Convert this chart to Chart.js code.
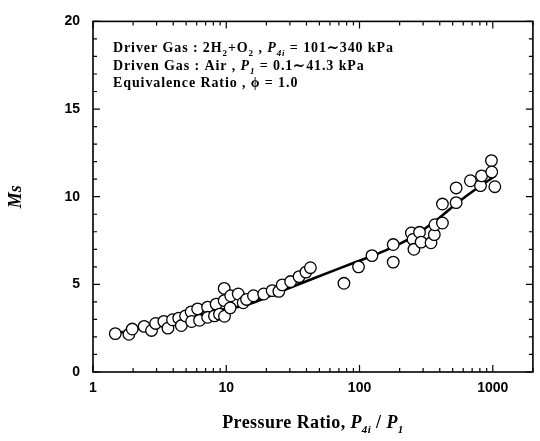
<!DOCTYPE html>
<html><head><meta charset="utf-8">
<script src="https://cdn.jsdelivr.net/npm/chart.js@4"></script>
<style>html,body{margin:0;padding:0;background:#fff}</style>
</head><body>
<canvas id="c" width="540" height="441"></canvas>
<script>
// Measured data: pressure ratio P4i/P1 and shock Mach number Ms
const pressureRatio = [1.47,1.86,1.97,2.42,2.75,2.95,3.4,3.65,3.95,4.4,4.6,4.95,5.45,5.5,6.1,6.3,7.25,7.25,8.4,8.15,8.9,9.65,9.65,9.7,10.8,10.7,12.3,13.4,14.2,16.0,19.1,22.1,24.8,26.3,30.4,35.2,39.6,42.8,76.4,98.3,124,179,179,245,252,256,282,290,344,364,368,419,419,531,531,679,809,824,977,982,1036];
const machNumber    = [2.19,2.15,2.45,2.6,2.37,2.77,2.89,2.5,2.98,3.07,2.65,3.2,3.43,2.88,3.6,2.95,3.7,3.12,3.87,3.2,3.3,4.77,4.07,3.18,4.35,3.66,4.45,3.95,4.14,4.35,4.45,4.64,4.6,4.97,5.16,5.44,5.7,5.95,5.06,6.0,6.64,6.27,7.27,7.93,7.56,7.0,7.97,7.41,7.37,7.84,8.4,8.5,9.58,9.66,10.5,10.91,10.63,11.19,12.06,11.41,10.57];
// Fitted curve
const fitPressureRatio = [1.5,2,3,5,7,10,14.4,25.3,44.5,92.9,154,243,381,535,752,1050];
const fitMachNumber    = [2.2,2.4,2.7,3.05,3.35,3.6,3.84,4.58,5.32,6.26,6.91,7.65,8.68,9.61,10.45,11.2];
const xTickLabels = [1, 10, 100, 1000];
const yTickLabels = [0, 5, 10, 15, 20];

const SERIF = '"Liberation Serif", "Times New Roman", serif';
const SANS = '"Liberation Sans", Arial, sans-serif';

function setFont(ctx, r, size) {
  const fs = r.sub ? Math.round(size * 0.62) : size;
  ctx.font = (r.italic ? 'italic ' : '') + 'bold ' + fs + 'px ' + SERIF;
}
function drawRuns(ctx, x, y, runs, size) {
  ctx.textBaseline = 'alphabetic';
  ctx.textAlign = 'left';
  let cx = x;
  for (const r of runs) {
    setFont(ctx, r, size);
    const dy = r.sub ? size * 0.3 : 0;
    ctx.fillText(r.t, cx, y + dy);
    cx += ctx.measureText(r.t).width;
  }
  return cx - x;
}
function runsWidth(ctx, runs, size) {
  let w = 0;
  for (const r of runs) { setFont(ctx, r, size); w += ctx.measureText(r.t).width; }
  return w;
}

const framePlugin = {
  id: 'frame',
  afterDraw(chart) {
    const {ctx, chartArea: a, scales: {x, y}} = chart;
    ctx.save();
    ctx.strokeStyle = '#000';
    ctx.lineWidth = 1.6;
    ctx.strokeRect(a.left, a.top, a.right - a.left, a.bottom - a.top);
    ctx.lineWidth = 1.2;
    ctx.beginPath();
    for (let v = y.min; v <= y.max; v += 1) {
      const py = y.getPixelForValue(v);
      const len = yTickLabels.includes(v) ? 7 : 4;
      ctx.moveTo(a.left, py); ctx.lineTo(a.left + len, py);
      ctx.moveTo(a.right, py); ctx.lineTo(a.right - len, py);
    }
    for (let d = 1; d <= 1000; d *= 10) {
      for (let m = 1; m <= 9; m++) {
        const v = d * m;
        if (v > x.max) break;
        const px = x.getPixelForValue(v);
        const len = m === 1 ? 7 : 4;
        ctx.moveTo(px, a.bottom); ctx.lineTo(px, a.bottom - len);
        ctx.moveTo(px, a.top); ctx.lineTo(px, a.top + len);
      }
    }
    ctx.stroke();

    ctx.fillStyle = '#000';
    const size = 14;
    ctx.letterSpacing = '0.9px';
    const lines = [
      [{t:'Driver Gas : 2H'},{t:'2',sub:1},{t:'+O'},{t:'2',sub:1},{t:' , '},{t:'P',italic:1},{t:'4i',sub:1,italic:1},{t:' = 101\u223C340 kPa'}],
      [{t:'Driven Gas : Air , '},{t:'P',italic:1},{t:'1',sub:1,italic:1},{t:' = 0.1\u223C41.3 kPa'}],
      [{t:'Equivalence Ratio , '},{t:'\u03D5'},{t:' = 1.0'}]
    ];
    const ys = [52, 70, 87];
    lines.forEach((l, i) => drawRuns(ctx, 113, ys[i], l, size));

    ctx.letterSpacing = '0.4px';
    const xt = [{t:'Pressure Ratio, '},{t:'P',italic:1},{t:'4i',sub:1,italic:1},{t:' / '},{t:'P',italic:1},{t:'1',sub:1,italic:1}];
    const ts = 18;
    const w = runsWidth(ctx, xt, ts);
    drawRuns(ctx, (a.left + a.right) / 2 - w / 2, 428, xt, ts);
    ctx.letterSpacing = '0px';

    ctx.translate(16, (a.top + a.bottom) / 2);
    ctx.rotate(-Math.PI / 2);
    ctx.font = 'italic bold 18px ' + SERIF;
    ctx.textAlign = 'center';
    ctx.textBaseline = 'middle';
    ctx.fillText('Ms', 0, 0);
    ctx.restore();
  }
};

new Chart(document.getElementById('c'), {
  type: 'scatter',
  data: {
    datasets: [
      {
        label: 'Experiment',
        data: pressureRatio.map((v, i) => ({x: v, y: machNumber[i]})),
        pointRadius: 5.8,
        pointBackgroundColor: '#fff',
        pointBorderColor: '#000',
        pointBorderWidth: 1.3,
        showLine: false,
        order: 0
      },
      {
        label: 'Fit',
        data: fitPressureRatio.map((v, i) => ({x: v, y: fitMachNumber[i]})),
        showLine: true,
        pointRadius: 0,
        borderColor: '#000',
        borderWidth: 2.6,
        cubicInterpolationMode: 'monotone',
        order: 1
      }
    ]
  },
  options: {
    responsive: false,
    animation: false,
    devicePixelRatio: 1,
    layout: {padding: {top: 14, right: 1, left: 0, bottom: 0}},
    plugins: {legend: {display: false}, tooltip: {enabled: false}},
    scales: {
      x: {
        type: 'logarithmic', min: 1, max: 2000,
        grid: {display: false, drawTicks: false},
        border: {display: false},
        afterBuildTicks: s => { s.ticks = xTickLabels.map(v => ({value: v})); },
        afterFit: s => { s.height = 69; },
        ticks: {autoSkip: false, maxRotation: 0, padding: 8, color: '#000',
          font: {family: SANS, weight: 'bold', size: 14},
          callback: v => String(v)}
      },
      y: {
        min: 0, max: 20,
        grid: {display: false, drawTicks: false},
        border: {display: false},
        afterBuildTicks: s => { s.ticks = yTickLabels.map(v => ({value: v})); },
        afterFit: s => { s.width = 93; },
        ticks: {padding: 13, color: '#000',
          font: {family: SANS, weight: 'bold', size: 14},
          callback: v => String(v)}
      }
    }
  },
  plugins: [framePlugin]
});
</script>
</body></html>
